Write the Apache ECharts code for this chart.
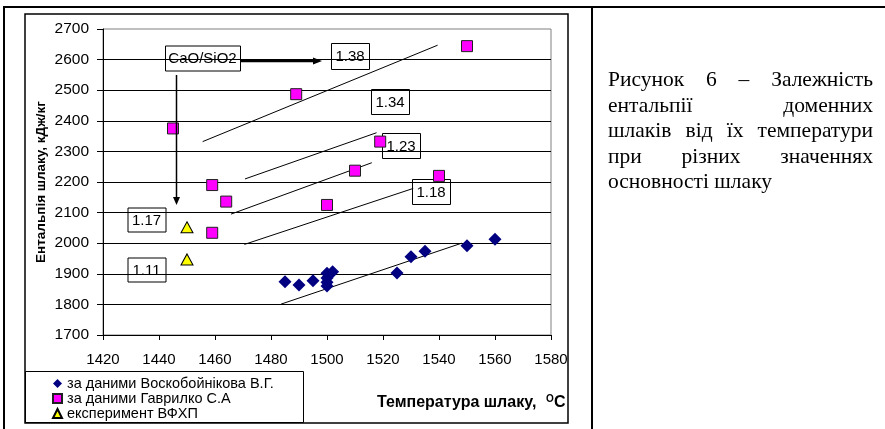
<!DOCTYPE html>
<html>
<head>
<meta charset="utf-8">
<script src="https://cdn.jsdelivr.net/npm/echarts@6/dist/echarts.min.js"></script>
<style>
html, body { margin: 0; padding: 0; background: #fff; }
#chart { position: absolute; left: 0; top: 0; width: 885px; height: 429px; }
#caption {
  position: absolute; left: 608px; top: 67px; width: 265px;
  font-family: 'Liberation Serif', 'Times New Roman', serif;
  font-size: 21.5px; line-height: 25.5px; color: #000;
}
#caption .j { text-align: justify; text-align-last: justify; }
</style>
</head>
<body>
<div id="chart"></div>
<div id="caption">
  <div class="j">Рисунок 6 – Залежність</div>
  <div class="j">ентальпії доменних</div>
  <div class="j">шлаків від їх температури</div>
  <div class="j">при різних значеннях</div>
  <div>основності шлаку</div>
</div>
<script>
// точки
const voskX = [1485, 1490, 1495, 1500, 1500, 1500, 1500, 1502, 1525, 1530, 1535, 1550, 1560]
const voskY = [1874, 1863, 1877, 1860, 1872, 1886, 1902, 1907, 1903, 1956, 1974, 1992, 2013]
const gavrX = [1445, 1459, 1464, 1459, 1489, 1500, 1510, 1519, 1540, 1550]
const gavrY = [2375, 2190, 2136, 2034, 2487, 2125, 2237, 2332, 2220, 2644]
const vfhpX = [1450, 1450]
const vfhpY = [2052, 1947]

// лінії тренду (початок, кінець)
const trend1 = [[1455.6, 2332], [1539.5, 2647]]
const trend2 = [[1470.7, 2210], [1517.7, 2361]]
const trend3 = [[1465.7, 2095], [1516, 2263]]
const trend4 = [[1470.5, 1996], [1530.8, 2179]]
const trend5 = [[1483.6, 1801], [1548.1, 2000]]

const xTicks = { min: 1420, max: 1580, step: 20 }
const yTicks = { min: 1700, max: 2700, step: 100 }

const seriesNames = ['за даними Воскобойнікова В.Г.', 'за даними Гаврилко С.А', 'експеримент ВФХП']
const annoLabels = ['CaO/SiO2', '1.38', '1.34', '1.23', '1.18', '1.17', '1.11']

const zip = (xs, ys) => xs.map((x, i) => [x, ys[i]])
const font = 'Liberation Sans, Arial, sans-serif'

function trendSeries(d) {
  return {
    type: 'line', data: d, symbol: 'none', silent: true, z: 1,
    lineStyle: { color: '#000', width: 1 }
  }
}

function box(cx, cy, w, h, text) {
  return {
    type: 'group', z: 100,
    children: [
      { type: 'rect', shape: { x: cx - w / 2 + 0.5, y: cy - h / 2 + 0.5, width: w, height: h },
        style: { fill: '#fff', stroke: '#000', lineWidth: 1 } },
      { type: 'text', x: cx, y: cy + 1,
        style: { text: text, font: '15px ' + font, fill: '#000', align: 'center', verticalAlign: 'middle' } }
    ]
  }
}

const chart = echarts.init(document.getElementById('chart'))
chart.setOption({
  animation: false,
  backgroundColor: '#fff',
  grid: { left: 103, top: 29, width: 448, height: 306, show: true, borderColor: '#808080', borderWidth: 1 },
  xAxis: {
    type: 'value', min: xTicks.min, max: xTicks.max, interval: xTicks.step,
    axisLine: { lineStyle: { color: '#000', width: 1 } },
    axisTick: { show: true, inside: false, length: 5, lineStyle: { color: '#000' } },
    axisLabel: { color: '#000', fontSize: 15, fontFamily: font, margin: 17, formatter: v => String(v) },
    splitLine: { show: false }
  },
  yAxis: {
    type: 'value', min: yTicks.min, max: yTicks.max, interval: yTicks.step,
    axisLine: { show: true, lineStyle: { color: '#000', width: 1 } },
    axisTick: { show: true, inside: false, length: 6, lineStyle: { color: '#000' } },
    axisLabel: { color: '#000', fontSize: 15.5, fontFamily: font, margin: 14, formatter: v => String(v) },
    splitLine: { show: true, showMinLine: false, showMaxLine: false, lineStyle: { color: '#000', width: 1 } }
  },
  legend: {
    data: seriesNames, orient: 'vertical', left: 52, top: 376,
    itemWidth: 9, itemHeight: 9, itemGap: 0, padding: 0,
    textStyle: { color: '#000', fontSize: 14.5, fontFamily: font, lineHeight: 14 }
  },
  series: [
    trendSeries(trend1), trendSeries(trend2), trendSeries(trend3), trendSeries(trend4), trendSeries(trend5),
    {
      name: seriesNames[0], type: 'scatter', data: zip(voskX, voskY), z: 3,
      symbol: 'diamond', symbolSize: [13, 13],
      itemStyle: { color: '#000080', opacity: 1 }
    },
    {
      name: seriesNames[1], type: 'scatter', data: zip(gavrX, gavrY), z: 3,
      symbol: 'rect', symbolSize: [11, 11],
      itemStyle: { color: '#ff00ff', borderColor: '#202020', borderWidth: 1, opacity: 1 }
    },
    {
      name: seriesNames[2], type: 'scatter', data: zip(vfhpX, vfhpY), z: 3,
      symbol: 'triangle', symbolSize: [12, 11],
      itemStyle: { color: '#ffff00', borderColor: '#000', borderWidth: 1, opacity: 1 }
    }
  ],
  graphic: [
    // рамки таблиці
    { type: 'line', z: 50, shape: { x1: 3, y1: 7, x2: 885, y2: 7 }, style: { stroke: '#000', lineWidth: 2 } },
    { type: 'line', z: 50, shape: { x1: 4, y1: 6, x2: 4, y2: 429 }, style: { stroke: '#000', lineWidth: 2 } },
    { type: 'line', z: 50, shape: { x1: 592, y1: 6, x2: 592, y2: 429 }, style: { stroke: '#000', lineWidth: 2 } },
    // рамка діаграми
    { type: 'rect', z: 50, shape: { x: 25, y: 14, width: 543, height: 409 }, style: { fill: null, stroke: '#000', lineWidth: 1.5 } },
    // рамка легенди
    { type: 'rect', z: 50, shape: { x: 25.5, y: 371.5, width: 278, height: 51 }, style: { fill: null, stroke: '#000', lineWidth: 1 } },
    // назви осей
    { type: 'text', z: 50, x: 41, y: 182, rotation: Math.PI / 2,
      style: { text: 'Ентальпія шлаку, кДж/кг', font: 'bold 13.5px ' + font, fill: '#000', align: 'center', verticalAlign: 'middle' } },
    { type: 'text', z: 50, x: 377, y: 403,
      style: { text: 'Температура шлаку,', font: 'bold 16px ' + font, fill: '#000', align: 'left', verticalAlign: 'middle' } },
    { type: 'text', z: 50, x: 546, y: 399,
      style: { text: 'O', font: 'bold 10px ' + font, fill: '#000', align: 'left', verticalAlign: 'middle' } },
    { type: 'text', z: 50, x: 554, y: 403,
      style: { text: 'C', font: 'bold 16px ' + font, fill: '#000', align: 'left', verticalAlign: 'middle' } },
    // стрілки
    { type: 'line', z: 60, shape: { x1: 240, y1: 61, x2: 316, y2: 61 }, style: { stroke: '#000', lineWidth: 2.5 } },
    { type: 'polygon', z: 60, shape: { points: [[322, 61], [313, 57.5], [313, 64.5]] }, style: { fill: '#000' } },
    { type: 'line', z: 60, shape: { x1: 176.5, y1: 75, x2: 176.5, y2: 198 }, style: { stroke: '#000', lineWidth: 1.5 } },
    { type: 'polygon', z: 60, shape: { points: [[176.5, 205], [173, 197], [180, 197]] }, style: { fill: '#000' } },
    // підписи
    box(202.5, 58, 75, 25, annoLabels[0]),
    box(350, 56, 38, 26, annoLabels[1]),
    box(390, 101.5, 38, 25, annoLabels[2]),
    box(401, 145.5, 38, 25, annoLabels[3]),
    box(431, 191.5, 38, 25, annoLabels[4]),
    box(146.5, 219.5, 38, 24, annoLabels[5]),
    box(146.5, 269.5, 38, 24, annoLabels[6])
  ]
})
</script>
</body>
</html>
